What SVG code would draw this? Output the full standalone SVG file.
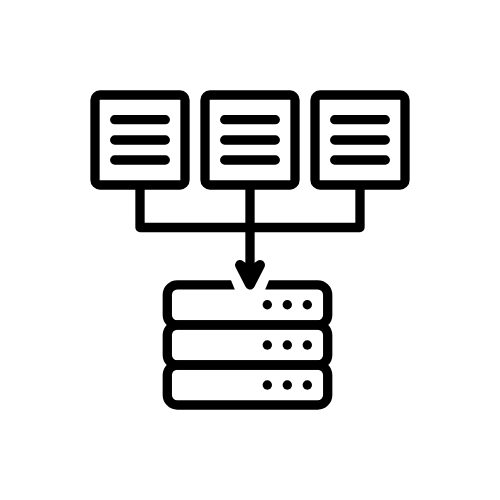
<svg xmlns="http://www.w3.org/2000/svg" width="500" height="500" viewBox="0 0 500 500">
<style>
.s{fill:none;stroke:#000;stroke-width:9.3;stroke-linecap:round;stroke-linejoin:round}
.box{fill:#fff;stroke:#000;stroke-width:9.3}
.d{fill:#000}
</style>
<rect width="500" height="500" fill="#fff"/>
<g id="connectors">
<path class="s" d="M140 185V227.500H360V185"/>
<path class="s" d="M250 185V272"/>
</g>
<g id="doc1"><rect class="box" x="95" y="95" width="90" height="90" rx="5"/><path class="s" d="M114.700 119.700H165.300M114.700 140H165.300M114.700 160H165.300"/></g>
<g id="doc2"><rect class="box" x="205" y="95" width="90" height="90" rx="5"/><path class="s" d="M224.700 119.700H275.300M224.700 140H275.300M224.700 160H275.300"/></g>
<g id="doc3"><rect class="box" x="315" y="95" width="90" height="90" rx="5"/><path class="s" d="M334.700 119.700H385.300M334.700 140H385.300M334.700 160H385.300"/></g>
<g id="server">
<rect class="s" x="167.300" y="284.900" width="160.400" height="40" rx="10"/>
<rect class="s" x="167.300" y="325" width="160.400" height="40" rx="10"/>
<rect class="s" x="167.300" y="365" width="160.400" height="40" rx="10"/>
<polygon points="230.500,279 235,290 265,290 269.500,279" fill="#fff"/>
<g class="d">
<circle cx="267.300" cy="304.700" r="4.700"/><circle cx="287.300" cy="304.700" r="4.700"/><circle cx="307.300" cy="304.700" r="4.700"/>
<circle cx="267.300" cy="345" r="4.700"/><circle cx="287.300" cy="345" r="4.700"/><circle cx="307.300" cy="345" r="4.700"/>
<circle cx="267.300" cy="385" r="4.700"/><circle cx="287.300" cy="385" r="4.700"/><circle cx="307.300" cy="385" r="4.700"/>
</g>
</g>
<g id="arrow"><path d="M240 265L250 284.500L260 265L250 272Z" fill="#000" stroke="#000" stroke-width="10" stroke-linejoin="round"/></g>
</svg>
